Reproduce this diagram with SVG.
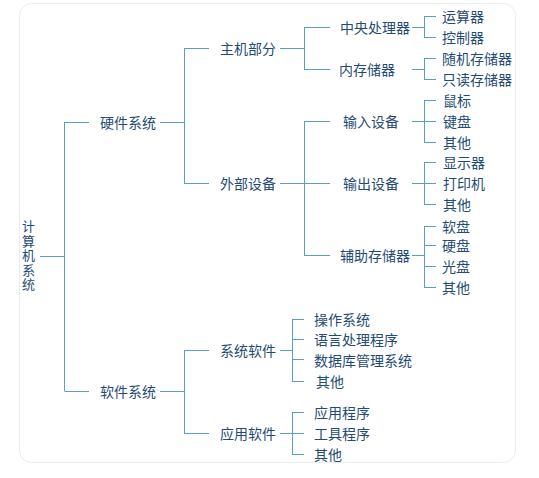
<svg xmlns="http://www.w3.org/2000/svg" width="539" height="478" viewBox="0 0 539 478">
<style>
text{font-family:"Noto Sans CJK SC","Noto Sans",sans-serif;font-size:14px;fill:#1f4b74;dominant-baseline:central}
#root text{font-size:13px;writing-mode:vertical-rl;letter-spacing:1.5px}
.c path{fill:none;stroke:#5b9bd5;stroke-width:1}
</style>
<rect x="19.5" y="3.5" width="496" height="459" rx="12" fill="#fff" stroke="#ececec"/>
<g class="c" id="connectors">
<path d="M40 256.5H64.5M64.5 122V391M64.5 122.5H89M64.5 391.5H89"/>
<path d="M160 122.5H184.5M184.5 48V184M184.5 48.5H209M184.5 183.5H209"/>
<path d="M280 48.5H304.5M304.5 27V70M304.5 27.5H330M304.5 69.5H330"/>
<path d="M412 27.5H424.5M424.5 16V38M424.5 16.5H436M424.5 37.5H436"/>
<path d="M412 69.5H424.5M424.5 58V80M424.5 58.5H436M424.5 79.5H436"/>
<path d="M280 183.5H304.5M304.5 121V256M304.5 121.5H330M304.5 183.5H330M304.5 255.5H330"/>
<path d="M412 121.5H436M424.5 100V143M424.5 100.5H436M424.5 142.5H436"/>
<path d="M412 183.5H436M424.5 162V205M424.5 162.5H436M424.5 204.5H436"/>
<path d="M412 255.5H424.5M424.5 226V288M424.5 226.5H436M424.5 245.5H436M424.5 266.5H436M424.5 287.5H436"/>
<path d="M160 391.5H184.5M184.5 350V434M184.5 350.5H209M184.5 433.5H209"/>
<path d="M280 350.5H292.5M292.5 319V382M292.5 319.5H304M292.5 339.5H304M292.5 359.5H304M292.5 381.5H304"/>
<path d="M280 433.5H304M292.5 412V455M292.5 412.5H304M292.5 454.5H304"/>
</g>
<g id="root"><text x="28.5" y="220">计算机系统</text></g>
<g id="hw"><text x="100" y="122">硬件系统</text></g>
<g id="sw"><text x="100" y="391">软件系统</text></g>
<g id="host"><text x="220" y="48">主机部分</text></g>
<g id="ext"><text x="220" y="183">外部设备</text></g>
<g id="cpu"><text x="340" y="27">中央处理器</text></g>
<g id="mem"><text x="339" y="69">内存储器</text></g>
<g id="alu"><text x="442" y="16">运算器</text></g>
<g id="ctl"><text x="442" y="37">控制器</text></g>
<g id="ram"><text x="442" y="58">随机存储器</text></g>
<g id="rom"><text x="442" y="79">只读存储器</text></g>
<g id="in"><text x="343" y="121">输入设备</text></g>
<g id="out"><text x="343" y="183">输出设备</text></g>
<g id="aux"><text x="340" y="255">辅助存储器</text></g>
<g id="mouse"><text x="443" y="100">鼠标</text></g>
<g id="kbd"><text x="443" y="121">键盘</text></g>
<g id="in-o"><text x="443" y="142">其他</text></g>
<g id="disp"><text x="443" y="162">显示器</text></g>
<g id="prn"><text x="443" y="183">打印机</text></g>
<g id="out-o"><text x="443" y="204">其他</text></g>
<g id="fd"><text x="442" y="226">软盘</text></g>
<g id="hd"><text x="442" y="245">硬盘</text></g>
<g id="cd"><text x="442" y="266">光盘</text></g>
<g id="aux-o"><text x="442" y="287">其他</text></g>
<g id="syssw"><text x="220" y="350">系统软件</text></g>
<g id="appsw"><text x="220" y="433">应用软件</text></g>
<g id="os"><text x="314" y="319">操作系统</text></g>
<g id="lang"><text x="314" y="339">语言处理程序</text></g>
<g id="db"><text x="314" y="360">数据库管理系统</text></g>
<g id="sys-o"><text x="316" y="381">其他</text></g>
<g id="app"><text x="314" y="412">应用程序</text></g>
<g id="tool"><text x="314" y="433">工具程序</text></g>
<g id="app-o"><text x="314" y="454">其他</text></g>
</svg>
